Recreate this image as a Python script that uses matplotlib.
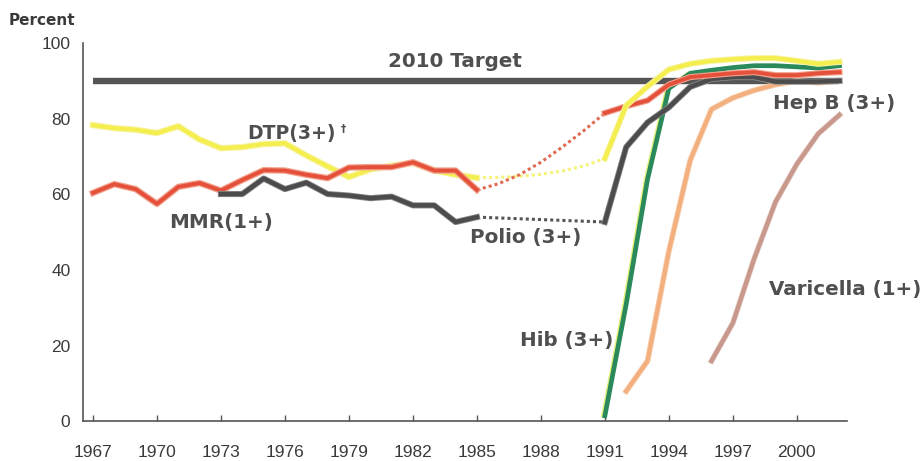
import matplotlib
matplotlib.use("Agg")
import matplotlib.pyplot as plt
import matplotlib.patheffects as pe
from matplotlib.transforms import offset_copy

# ---------------- data ----------------
early_years = list(range(1967, 1986))
dtp_early = [78.3, 77.5, 77.1, 76.2, 78.0, 74.5, 72.2, 72.5, 73.3, 73.5,
             70.3, 67.4, 64.6, 66.6, 67.6, 68.3, 66.3, 65.2, 64.4]
mmr_early = [60.4, 62.7, 61.4, 57.5, 62.0, 63.0, 61.0, 63.8, 66.4, 66.3,
             65.2, 64.3, 67.1, 67.2, 67.2, 68.5, 66.3, 66.3, 61.2]
polio_early_years = list(range(1973, 1986))
polio_early = [60.1, 60.1, 64.2, 61.4, 63.1, 60.1, 59.7, 59.0, 59.4, 57.1,
               57.1, 52.7, 54.0]

gap_years = list(range(1985, 1992))
dtp_gap = [64.4, 64.5, 64.8, 65.3, 66.2, 67.5, 69.5]
mmr_gap = [61.2, 62.8, 65.2, 68.5, 72.5, 76.8, 81.5]
polio_gap_years = [1985, 1991]
polio_gap = [54.0, 52.7]

late_years = list(range(1991, 2003))
dtp_late = [69.5, 83.5, 88.5, 93.0, 94.5, 95.3, 95.7, 96.0, 96.0, 95.3, 94.5, 95.0]
mmr_late = [81.5, 83.3, 84.8, 89.0, 91.0, 91.5, 92.0, 92.3, 91.5, 91.5, 92.0, 92.3]
polio_late = [52.7, 72.5, 79.0, 83.0, 88.4, 90.5, 91.0, 91.0, 89.8, 89.8, 89.8, 90.0]
hib_late = [1.5, 31.0, 64.0, 88.0, 92.0, 92.8, 93.5, 94.0, 94.0, 93.7, 93.4, 94.0]
hepb_years = list(range(1992, 2003))
hepb = [8.0, 16.0, 45.0, 69.0, 82.5, 85.5, 87.5, 89.0, 90.0, 89.5, 90.0]
var_years = list(range(1996, 2003))
varicella = [16.0, 26.0, 43.0, 58.0, 68.0, 76.0, 81.0]

target_years = [1967, 2002]
target_vals = [90, 90]

xtick_years = list(range(1967, 2001, 3))
ytick_vals = [0, 20, 40, 60, 80, 100]

# ---------------- figure ----------------
fig = plt.figure(figsize=(9.23, 4.61), dpi=100)
ax = fig.add_axes([0.0899, 0.0857, 0.8277, 0.8210])
ax.set_xlim(1966.53, 2002.35)
ax.set_ylim(0, 100)

TXT = '#4f4f4f'
YEL = '#f4ee4e'
RED = '#e4503a'
GRY = '#4c4c4c'
GRN = '#2a8a5c'
PEACH = '#f3b07e'
VAR = '#c8988c'

def soft(edge, w):
    return [pe.Stroke(linewidth=w, foreground=edge), pe.Normal()]

# target line
ax.plot(target_years, target_vals, color='#555555', lw=4.6,
        solid_capstyle='butt', zorder=2)

# dotted gap segments
ax.plot(gap_years, dtp_gap, color='#f6f27a', lw=2.2, ls=(0, (1, 1)), zorder=3)
ax.plot(gap_years, mmr_gap, color='#e06a50', lw=2.2, ls=(0, (1, 1)), zorder=3)
ax.plot(polio_gap_years, polio_gap, color='#555555', lw=2.2, ls=(0, (1, 1)), zorder=3)

# early solid series
ax.plot(early_years, dtp_early, color=YEL, lw=3.0, zorder=3,
        path_effects=soft('#f8f4a0', 4.6), solid_joinstyle='round')
ax.plot(early_years, mmr_early, color=RED, lw=2.8, zorder=4,
        path_effects=soft('#f2a08c', 4.6), solid_joinstyle='round')
ax.plot(polio_early_years, polio_early, color=GRY, lw=3.2, zorder=4,
        path_effects=soft('#8a8a8a', 4.4), solid_joinstyle='round')

# late series
ax.plot(var_years, varicella, color=VAR, lw=3.0, zorder=3,
        path_effects=soft('#e2c3bb', 4.0), solid_joinstyle='round')
ax.plot(hepb_years, hepb, color=PEACH, lw=3.0, zorder=3,
        path_effects=soft('#f8d3b6', 4.2), solid_joinstyle='round')
hib_edge = offset_copy(ax.transData, fig=fig, x=-1.7, y=0, units='points')
ax.plot(late_years, hib_late, color='#e6f07a', lw=2.0, zorder=3,
        transform=hib_edge)
ax.plot(late_years, hib_late, color=GRN, lw=3.4, zorder=4,
        solid_joinstyle='round')
ax.plot(late_years, polio_late, color=GRY, lw=3.2, zorder=4,
        path_effects=soft('#8a8a8a', 4.4), solid_joinstyle='round')
ax.plot(late_years, mmr_late, color=RED, lw=2.8, zorder=4,
        path_effects=soft('#f2a08c', 4.4), solid_joinstyle='round')
ax.plot(late_years, dtp_late, color=YEL, lw=3.0, zorder=5,
        path_effects=soft('#f8f4a0', 4.4), solid_joinstyle='round')

# axes styling
for s in ['top', 'right']:
    ax.spines[s].set_visible(False)
for s in ['left', 'bottom']:
    ax.spines[s].set_color('#555555')
    ax.spines[s].set_linewidth(1.2)

ax.set_xticks(xtick_years)
ax.set_xticklabels([str(y) for y in xtick_years])
ax.set_yticks(ytick_vals)
ax.set_yticklabels([str(v) for v in ytick_vals])
ax.tick_params(axis='x', direction='in', length=4, width=1, color='#555555',
               pad=17, labelsize=12.5, labelcolor='#3a3a3a')
ax.tick_params(axis='y', length=0, pad=9, labelsize=12.5, labelcolor='#3a3a3a')
for lab in ax.get_xticklabels() + ax.get_yticklabels():
    lab.set_fontfamily('Liberation Sans')

fig.text(0.0455, 0.9566, 'Percent', fontsize=11, fontweight='bold',
         color='#3a3a3a', ha='center', va='center', family='DejaVu Sans')

lab_kw = dict(fontsize=14.3, fontweight='bold', color=TXT,
              family='DejaVu Sans', va='center', clip_on=False, zorder=6)
ax.text(1983.97, 95.2, '2010 Target', ha='center', **lab_kw)
ax.text(1974.22, 76.2, 'DTP(3+)', ha='left', va='center', fontsize=13.6,
        fontweight='bold', color=TXT, family='DejaVu Sans')
ax.text(1978.62, 77.4, '\u2020', ha='left', va='center', fontsize=7.5,
        fontweight='bold', color=TXT, family='DejaVu Sans')
ax.text(1973.0, 52.7, 'MMR(1+)', ha='center', **lab_kw)
ax.text(1987.3, 48.7, 'Polio (3+)', ha='center', **lab_kw)
ax.text(2001.74, 84.1, 'Hep B (3+)', ha='center', **lab_kw)
ax.text(2002.26, 35.0, 'Varicella (1+)', ha='center', **lab_kw)
ax.text(1989.22, 21.3, 'Hib (3+)', ha='center', **lab_kw)

fig.savefig('out.png', dpi=100, facecolor='white')
